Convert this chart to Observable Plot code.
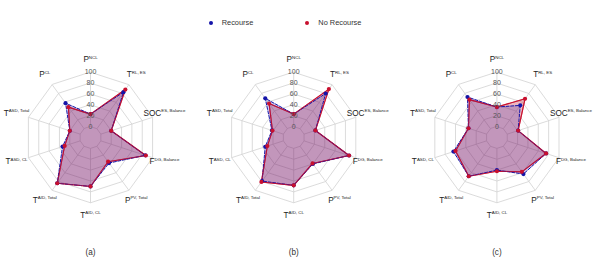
<!DOCTYPE html>
<html>
<head>
<meta charset="utf-8">
<script src="https://cdn.jsdelivr.net/npm/d3@7"></script>
<script src="https://cdn.jsdelivr.net/npm/@observablehq/plot@0.6"></script>
<style>
  html, body { margin: 0; padding: 0; background: #fff; }
  body { width: 598px; font-family: "Liberation Sans", Arial, sans-serif; }
  #legend { position: relative; height: 34px; width: 598px; font-size: 7.4px; color: #333; }
  #legend .dot { position: absolute; width: 4.4px; height: 4.4px; border-radius: 50%; }
  #legend .lab { position: absolute; line-height: 10px; }
  #chart svg { display: block; }
</style>
</head>
<body>
<div id="legend"></div>
<div id="chart"></div>
<script>
// ---------------- data ----------------
const panels = ["(a)", "(b)", "(c)"];
const axisBase = ["P", "T", "SOC", "F", "P", "T", "T", "T", "T", "P"];
const axisSup = ["NCL", "RL, ES", "ES, Balance", "DG, Balance", "PV, Total", "AID, CL", "AID, Total", "ASD, CL", "ASD, Total", "CL"];
const gridTicks = [0, 20, 40, 60, 80, 100];
const seriesNames = ["Recourse", "No Recourse"];

const recourseA   = [23, 83, 20, 86, 38, 70, 84, 34, 20, 58];
const noRecourseA = [23, 89, 20, 87, 35, 70, 84, 30, 20, 49];
const recourseB   = [23, 80, 22, 87, 40, 68, 79, 35, 22, 69];
const noRecourseB = [23, 90, 22, 87, 39, 68, 81, 31, 21, 57];
const recourseC   = [36, 53, 21, 75, 63, 40, 68, 64, 35, 72];
const noRecourseC = [36, 68, 21, 75, 58, 42, 68, 60, 35, 66];

// ---------------- layout ----------------
const W = 598, H = 223;
const k = 0.544;          // px per value unit
const CX0 = 90, CY = 103; // first chart centre (px in svg)
const GAP = 203.2 / k;    // panel spacing in value units
const HOLE = 20;          // inner hole (value units)
const LABEL_R = 143;      // axis label radius (units from centre)
const CAPTION_Y = -211;
const colRec = "#1414a8", colNo = "#c8102e";

const ang = i => i * 2 * Math.PI / axisBase.length;
const rr = v => v + HOLE;
const px = (pi, r, i) => pi * GAP + r * Math.sin(ang(i));
const py = (r, i) => r * Math.cos(ang(i));

const recData = [recourseA, recourseB, recourseC];
const noData = [noRecourseA, noRecourseB, noRecourseC];
const toRows = arrs => arrs.flatMap((vals, pi) => vals.map((v, i) => ({pi, i, v})));
const recRows = toRows(recData);
const noRows = toRows(noData);

const gridRows = panels.flatMap((p, pi) => gridTicks.flatMap(t => axisBase.map((a, i) => ({pi, t, i}))));
const spokeRows = panels.flatMap((p, pi) => axisBase.map((a, i) => ({pi, i})));
const tickRows = panels.flatMap((p, pi) => gridTicks.map(t => ({pi, t})));
const labelRows = panels.flatMap((p, pi) => axisBase.map((a, i) => ({pi, i, text: a + "|" + axisSup[i]})));

const polyMark = (rows, color, fillOpacity, dash, sw) =>
  Plot.line(rows, {x: d => px(d.pi, rr(d.v), d.i), y: d => py(rr(d.v), d.i), z: d => d.pi,
    curve: "linear-closed", fill: color, fillOpacity, stroke: color, strokeWidth: sw, strokeDasharray: dash});
const dotMark = (rows, color) => Plot.dot(rows, {x: d => px(d.pi, rr(d.v), d.i), y: d => py(rr(d.v), d.i), r: 2.1, fill: color, stroke: "none"});

const chart = Plot.plot({
  width: W, height: H, margin: 0,
  style: {fontFamily: "'Liberation Sans', Arial, sans-serif", background: "white"},
  x: {domain: [-CX0 / k, (W - CX0) / k], range: [0, W], axis: null},
  y: {domain: [-(H - CY) / k, CY / k], range: [H, 0], axis: null},
  marks: [
    Plot.line(gridRows, {x: d => px(d.pi, rr(d.t), d.i), y: d => py(rr(d.t), d.i), z: d => d.pi + "-" + d.t,
      curve: "linear-closed", stroke: "#d2d2d2", strokeWidth: 0.8}),
    Plot.link(spokeRows, {x1: d => px(d.pi, rr(0), d.i), y1: d => py(rr(0), d.i),
      x2: d => px(d.pi, rr(100), d.i), y2: d => py(rr(100), d.i), stroke: "#d2d2d2", strokeWidth: 0.8}),
    polyMark(noRows, colNo, 0.3, null, 1.1),
    polyMark(recRows, colRec, 0.2, "3,1.6", 1.0),
    Plot.line(noRows, {x: d => px(d.pi, rr(d.v), d.i), y: d => py(rr(d.v), d.i), z: d => d.pi,
      curve: "linear-closed", stroke: colNo, strokeWidth: 1.1, strokeOpacity: 0.6}),
    dotMark(recRows, colRec),
    dotMark(noRows, colNo),
    Plot.text(tickRows, {x: d => px(d.pi, rr(d.t), 0), y: d => py(rr(d.t), 0), text: d => String(d.t),
      fontSize: 7, fill: "#555"}),
    Plot.text(labelRows, {x: d => px(d.pi, LABEL_R, d.i), y: d => py(LABEL_R, d.i), text: d => d.text,
      fontSize: 8.2, fill: "#222"}),
    Plot.text(panels, {x: (d, i) => i * GAP, y: () => CAPTION_Y, text: d => d, fontSize: 8.2, fill: "#333"})
  ]
});

// superscripts
d3.select(chart).selectAll("text").each(function() {
  const t = this.textContent;
  if (!t || t.indexOf("|") < 0) return;
  const [base, sup] = t.split("|");
  const sel = d3.select(this);
  sel.text(null);
  sel.append("tspan").text(base);
  sel.append("tspan").attr("font-size", 4.4).attr("dy", -3.6).text(sup);
});

document.getElementById("chart").appendChild(chart);

// legend
const legend = document.getElementById("legend");
const legItems = [
  {name: seriesNames[0], color: colRec, dotX: 210.7, textX: 221.7},
  {name: seriesNames[1], color: colNo, dotX: 306.7, textX: 318.3}
];
for (const it of legItems) {
  const dot = document.createElement("div");
  dot.className = "dot";
  dot.style.background = it.color;
  dot.style.left = (it.dotX - 2.2) + "px";
  dot.style.top = (23.3 - 2.2) + "px";
  legend.appendChild(dot);
  const lab = document.createElement("div");
  lab.className = "lab";
  lab.textContent = it.name;
  lab.style.left = it.textX + "px";
  lab.style.top = (23.3 - 5) + "px";
  legend.appendChild(lab);
}
</script>
</body>
</html>
